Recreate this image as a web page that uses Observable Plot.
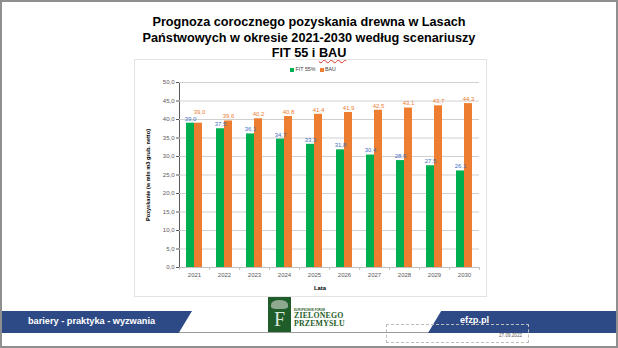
<!DOCTYPE html>
<html>
<head>
<meta charset="utf-8">
<script src="https://cdn.jsdelivr.net/npm/d3@7"></script>
<script src="https://cdn.jsdelivr.net/npm/@observablehq/plot@0.6"></script>
<style>
  html, body { margin: 0; padding: 0; background: #fff; }
  #slide { position: relative; width: 618px; height: 348px; overflow: hidden; background: #fff; font-family: "Liberation Sans", Arial, sans-serif; }
  .abs { position: absolute; }
  #border { left: 0; top: 0; width: 618px; height: 348px; box-sizing: border-box; border: 2px solid #8f8f8f; }
  #title { left: 0; width: 618px; top: 15px; text-align: center; font-weight: bold; font-size: 12.7px; line-height: 15.5px; color: #000; }
  #title .bau { text-decoration: underline wavy #d9342b; text-decoration-thickness: 1px; text-underline-offset: 2px; }
  #chartbox { left: 134px; top: 59px; width: 353px; height: 238px; box-sizing: border-box; border: 1px solid #e3e3e3; }
  #chart { left: 134px; top: 61px; }
  #legend { left: 261px; width: 100px; top: 66px; text-align: center; font-size: 5.3px; color: #404040; white-space: nowrap; }
  #legend span.sw { display: inline-block; width: 4px; height: 4px; margin: 0 1.5px 0 4px; vertical-align: -0.5px; }
  #ylabel { left: 148px; top: 175px; transform: translate(-50%, -50%) rotate(-90deg); font-size: 5.6px; font-weight: bold; color: #000; white-space: nowrap; }
  #xlabel { left: 320px; top: 288px; transform: translate(-50%, -50%); font-size: 5.8px; font-weight: bold; color: #000; }
  #hline { left: 0; top: 332px; width: 618px; height: 1px; background: #9a9a9a; }
  .banner { background: #2e4a86; color: #fff; font-weight: bold; font-size: 9.2px; }
  #bleft { left: 2px; top: 311px; width: 190px; height: 22px; clip-path: polygon(0 0, 100% 0, 93% 100%, 0 100%); }
  #bleft span { position: absolute; left: 26px; top: 4.5px; }
  #bright { left: 428px; top: 311px; width: 188px; height: 22px; clip-path: polygon(7% 0, 100% 0, 100% 100%, 0 100%); }
  #bright span { position: absolute; left: 32px; top: 3.5px; }
  #logo { left: 268px; top: 297px; width: 23px; height: 35px; background: #1f5e2a; }
  #logo .tree { position: absolute; left: 3px; top: 3px; width: 17px; height: 9px; background: #8fa890; border-radius: 50% 50% 30% 30%; }
  #logo .f { position: absolute; left: 6px; top: 12px; font-family: "Liberation Serif", serif; font-size: 20px; color: #d9e6d9; line-height: 20px; }
  #logotext1 { left: 294px; top: 308px; font-size: 2.8px; color: #1f5e2a; font-weight: bold; }
  #logotext2 { left: 294px; top: 312px; font-family: "Liberation Serif", serif; font-size: 7.8px; font-weight: bold; color: #1f5e2a; line-height: 8px; letter-spacing: 0.2px; }
  #datebox { left: 386px; top: 324px; width: 143px; height: 19px; box-sizing: border-box; border: 1px dashed #bdbdbd; }
  #datebox span { position: absolute; right: 6px; top: 8px; font-size: 4.6px; color: #595959; }
</style>
</head>
<body>
<div id="slide">
  <div id="title" class="abs">Prognoza corocznego pozyskania drewna w Lasach<br>Państwowych w okresie 2021-2030 według scenariuszy<br>FIT 55 i <span class="bau">BAU</span></div>
  <div id="chartbox" class="abs"></div>
  <div id="chart" class="abs"></div>
  <div id="legend" class="abs"></div>
  <div id="ylabel" class="abs">Pozyskanie (w mln m3 grub. netto)</div>
  <div id="xlabel" class="abs">Lata</div>
  <div id="hline" class="abs"></div>
  <div id="bleft" class="abs banner"><span>bariery - praktyka - wyzwania</span></div>
  <div id="bright" class="abs banner"><span>efzp.pl</span></div>
  <div id="logo" class="abs"><div class="tree"></div><div class="f">F</div></div>
  <div id="logotext1" class="abs">EUROPEJSKIE FORUM</div>
  <div id="logotext2" class="abs">ZIELONEGO<br>PRZEMYSŁU</div>
  <div id="datebox" class="abs"><span>27.09.2022</span></div>
  <div id="border" class="abs"></div>
</div>
<script>
// ---- data ----
const years = ["2021", "2022", "2023", "2024", "2025", "2026", "2027", "2028", "2029", "2030"];
const fit55 = [39.0, 37.5, 36.1, 34.7, 33.3, 31.8, 30.4, 28.9, 27.5, 26.1];
const bau = [39.0, 39.6, 40.2, 40.8, 41.4, 41.9, 42.5, 43.1, 43.7, 44.3];
const seriesNames = ["FIT 55%", "BAU"];
const seriesColors = ["#00B050", "#ED7D31"];
const labelColors = ["#4472C4", "#ED7D31"];
const yTicks = [0, 5, 10, 15, 20, 25, 30, 35, 40, 45, 50];

const fmt = v => d3.format(".1f")(v).replace(".", ",");

const rows = [];
years.forEach((y, i) => {
  rows.push({year: y, series: seriesNames[0], value: fit55[i], other: bau[i]});
  rows.push({year: y, series: seriesNames[1], value: bau[i], other: fit55[i]});
});
const labelColor = d => labelColors[seriesNames.indexOf(d.series)];
const isBau = d => d.series === seriesNames[1];
const clashes = d => Math.abs(d.value - d.other) < 1;

// legend
const legend = document.getElementById("legend");
legend.innerHTML = seriesNames.map((s, i) =>
  `<span class="sw" style="background:${seriesColors[i]}"></span>${s}`).join("");

const chart = Plot.plot({
  width: 353,
  height: 236,
  marginLeft: 43,
  marginRight: 7,
  marginTop: 21,
  marginBottom: 30,
  style: {fontFamily: "Liberation Sans, Arial, sans-serif", fontSize: "6px", color: "#595959", background: "transparent", overflow: "visible"},
  fx: {domain: years, padding: 0, label: null, tickSize: 0, tickPadding: 5, axis: "bottom"},
  x: {domain: seriesNames, paddingInner: 0, paddingOuter: 0.78, axis: null},
  y: {domain: [0, 50], ticks: yTicks, tickFormat: fmt, label: null, tickSize: 3, tickPadding: 2, line: true},
  color: {domain: seriesNames, range: seriesColors},
  marks: [
    Plot.ruleY(yTicks.filter(t => t > 0), {stroke: "#d0d0d0", strokeWidth: 1}),
    Plot.barY(rows, {fx: "year", x: "series", y: "value", fill: "series"}),
    Plot.ruleY([0], {stroke: "#bfbfbf"}),
    Plot.ruleX([seriesNames[0]], {y1: 0, y2: -0.8, dx: -10.9, stroke: "#bfbfbf"}),
    Plot.ruleX([{year: years[years.length - 1], s: seriesNames[1]}], {fx: "year", x: "s", y1: 0, y2: -0.8, dx: 10.9, stroke: "#bfbfbf"}),
    Plot.text(rows.filter(d => !(isBau(d) && clashes(d))), {fx: "year", x: "series", y: "value", text: d => fmt(d.value), dy: -4.5, fill: labelColor, fontSize: 6}),
    Plot.text(rows.filter(d => isBau(d) && clashes(d)), {fx: "year", x: "series", y: "value", text: d => fmt(d.value), dy: -11, dx: 1, fill: labelColor, fontSize: 6})
  ]
});
document.getElementById("chart").appendChild(chart);
</script>
</body>
</html>
